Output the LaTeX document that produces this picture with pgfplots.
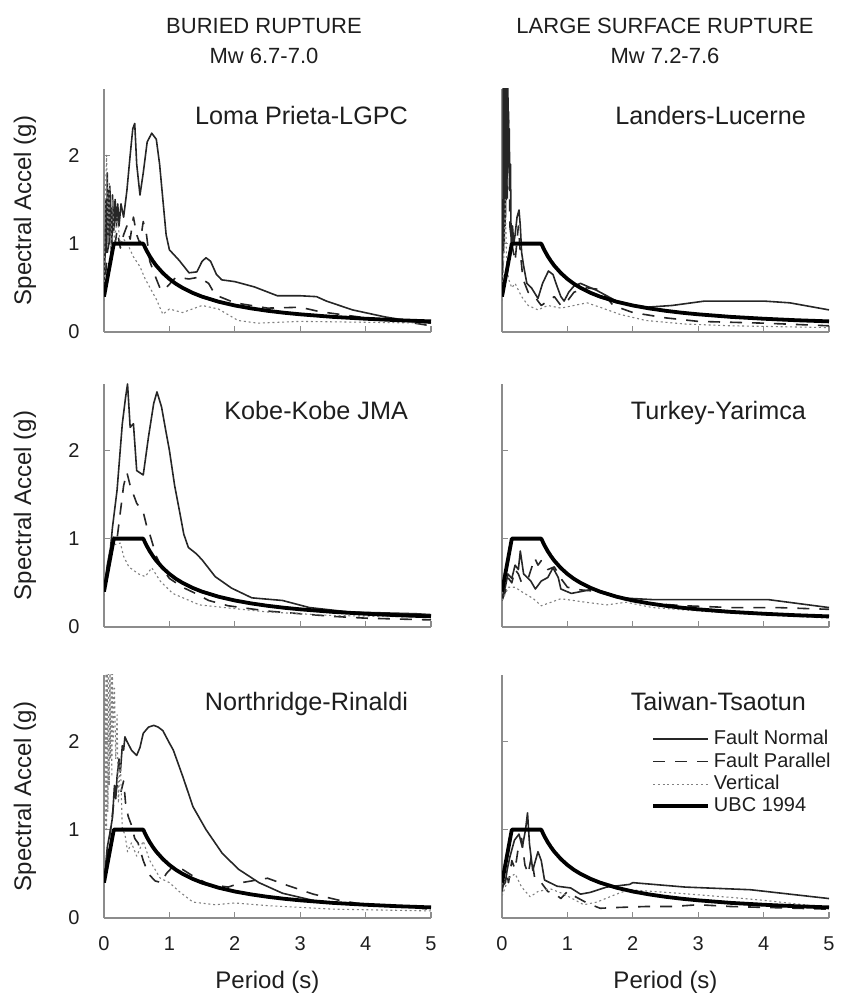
\documentclass[border=0pt]{standalone}
\usepackage{fontspec}
\setmainfont{Liberation Sans}
\usepackage{pgfplots}
\pgfplotsset{compat=1.18}
\definecolor{txt}{RGB}{30,30,30}
\definecolor{axl}{RGB}{140,140,140}
\pgfplotsset{
  panel/.style={
    scale only axis, width=163.5pt, height=121.5pt,
    xmin=0, xmax=5, ymin=0, ymax=2.75,
    axis x line=bottom, axis y line=left,
    axis line style={-, axl, line width=0.6pt},
    xtick={0,1,2,3,4,5}, ytick={0,1,2},
    tick align=inside, major tick length=3pt,
    tick style={axl, line width=0.6pt},
    /pgf/number format/assume math mode=true,
    tick label style={font=\fontsize{10}{12}\selectfont, text=txt},
    yticklabel style={xshift=-8.7pt},
    xticklabel style={yshift=-5.6pt},
    label style={font=\fontsize{12}{14}\selectfont, text=txt},
    xlabel style={at={(axis description cs:0.5,-0.263)}, anchor=center},
    ylabel style={at={(axis description cs:-0.2416,0.5)}, anchor=center},
    line join=round,
  },
  notx/.style={xticklabels={}},
  noty/.style={yticklabels={}},
  fn/.style={line width=0.8pt, black!85},
  fp/.style={line width=0.8pt, black!85, dash pattern=on 6pt off 5pt},
  vt/.style={line width=0.55pt, black!50, dash pattern=on 1pt off 1.4pt},
  ubc/.style={line width=1.9pt, black},
}
\newcommand{\ptitle}[1]{\node[anchor=base east, font=\fontsize{12.6}{14}\selectfont, text=txt] at (rel axis cs:0.951,0.852) {#1};}
\newcommand{\legtxt}[1]{\makebox[62pt][l]{#1}}
\newcommand{\ubcplot}{\addplot[ubc] coordinates {(0,0.4)(0.15,1.0)(0.6,1.0)(0.65,0.923)(0.7,0.857)(0.75,0.8)(0.8,0.75)(0.9,0.667)(1.0,0.6)(1.1,0.545)(1.2,0.5)(1.35,0.444)(1.5,0.4)(1.75,0.343)(2.0,0.3)(2.25,0.267)(2.5,0.24)(2.75,0.218)(3.0,0.2)(3.5,0.171)(4.0,0.15)(4.5,0.133)(5.0,0.12)};}
\begin{document}
\begin{tikzpicture}
\useasboundingbox (0,0) rectangle (421pt,497pt);
\node[font=\fontsize{11}{13}\selectfont, text=txt] at (132pt,484pt) {BURIED RUPTURE};
\node[font=\fontsize{11}{13}\selectfont, text=txt] at (132pt,469pt) {Mw 6.7-7.0};
\node[font=\fontsize{11}{13}\selectfont, text=txt] at (332.5pt,484pt) {LARGE SURFACE RUPTURE};
\node[font=\fontsize{11}{13}\selectfont, text=txt] at (332.5pt,469pt) {Mw 7.2-7.6};

% ---------- Loma Prieta ----------
\begin{axis}[panel, notx, at={(52pt,331pt)}, anchor=south west, ylabel={Spectral Accel (g)}]
\addplot[fn] coordinates {(0,0.42)(0.02,1.0)(0.03,1.5)(0.04,0.9)(0.05,1.8)(0.06,1.1)(0.07,1.6)(0.08,1.0)(0.09,1.65)(0.1,1.1)(0.11,1.4)(0.12,1.0)(0.13,1.55)(0.15,1.15)(0.17,1.5)(0.19,1.2)(0.21,1.45)(0.23,1.2)(0.26,1.45)(0.3,1.3)(0.35,1.6)(0.4,2.0)(0.44,2.3)(0.47,2.36)(0.5,1.9)(0.55,1.55)(0.6,1.8)(0.66,2.15)(0.73,2.25)(0.8,2.18)(0.85,1.9)(0.9,1.5)(0.95,1.1)(1.0,0.93)(1.15,0.81)(1.3,0.67)(1.42,0.68)(1.5,0.8)(1.56,0.84)(1.63,0.8)(1.72,0.65)(1.8,0.59)(2.0,0.57)(2.3,0.51)(2.65,0.41)(3.0,0.41)(3.25,0.4)(3.4,0.35)(3.8,0.25)(4.3,0.17)(4.8,0.11)(5.0,0.1)};
\addplot[fp] coordinates {(0,0.4)(0.05,0.9)(0.1,1.1)(0.15,0.9)(0.2,1.15)(0.25,0.95)(0.3,1.1)(0.35,1.2)(0.4,1.05)(0.45,1.3)(0.5,1.1)(0.55,1.0)(0.6,1.25)(0.65,1.1)(0.7,0.8)(0.8,0.6)(0.87,0.47)(0.95,0.5)(1.1,0.62)(1.3,0.6)(1.45,0.62)(1.6,0.55)(1.7,0.42)(2.0,0.33)(2.5,0.27)(3.0,0.28)(3.3,0.23)(3.6,0.2)(4.0,0.16)(4.5,0.13)(5.0,0.07)};
\addplot[vt] coordinates {(0,0.35)(0.02,1.5)(0.04,2.0)(0.06,1.0)(0.08,1.7)(0.1,0.9)(0.13,1.5)(0.16,1.0)(0.2,1.3)(0.25,1.0)(0.3,1.05)(0.37,0.98)(0.45,0.85)(0.55,0.74)(0.63,0.6)(0.8,0.37)(0.9,0.2)(1.0,0.26)(1.2,0.22)(1.5,0.3)(1.75,0.26)(2.05,0.13)(2.35,0.1)(3.0,0.12)(4.0,0.11)(5.0,0.1)};
\ubcplot
\ptitle{Loma Prieta-LGPC}
\end{axis}

% ---------- Landers ----------
\begin{axis}[panel, notx, noty, at={(251pt,331pt)}, anchor=south west]
\addplot[fn] coordinates {(0,0.45)(0.015,1.2)(0.02,2.9)(0.025,0.9)(0.03,2.9)(0.035,1.0)(0.04,2.9)(0.045,1.2)(0.05,2.9)(0.055,1.3)(0.06,2.9)(0.065,1.5)(0.07,2.9)(0.075,1.6)(0.08,2.9)(0.085,1.8)(0.09,2.8)(0.095,1.9)(0.1,2.4)(0.105,2.0)(0.11,2.3)(0.12,1.6)(0.13,1.9)(0.14,0.9)(0.16,1.2)(0.18,1.0)(0.2,1.1)(0.23,1.3)(0.26,1.38)(0.28,1.2)(0.3,0.9)(0.33,0.75)(0.38,0.55)(0.45,0.5)(0.55,0.38)(0.62,0.55)(0.71,0.69)(0.78,0.65)(0.84,0.52)(0.9,0.4)(0.95,0.35)(1.02,0.45)(1.1,0.52)(1.2,0.55)(1.45,0.47)(1.8,0.33)(2.2,0.28)(2.6,0.3)(3.1,0.35)(4.0,0.35)(4.4,0.33)(5.0,0.25)};
\addplot[fp] coordinates {(0,0.42)(0.04,1.6)(0.06,2.2)(0.08,1.5)(0.1,2.5)(0.12,1.2)(0.15,1.0)(0.2,0.8)(0.25,1.2)(0.28,0.9)(0.32,0.6)(0.4,0.45)(0.5,0.4)(0.6,0.3)(0.7,0.35)(0.8,0.4)(0.9,0.3)(1.0,0.35)(1.1,0.45)(1.3,0.5)(1.5,0.48)(1.7,0.3)(2.0,0.22)(2.5,0.16)(3.0,0.12)(4.0,0.1)(5.0,0.07)};
\addplot[vt] coordinates {(0,0.35)(0.03,0.9)(0.05,1.5)(0.07,0.8)(0.1,0.6)(0.15,0.5)(0.2,0.55)(0.3,0.4)(0.4,0.3)(0.55,0.25)(0.7,0.3)(0.9,0.27)(1.1,0.3)(1.3,0.33)(1.5,0.28)(1.8,0.2)(2.2,0.13)(2.8,0.09)(3.5,0.07)(5.0,0.05)};
\ubcplot
\ptitle{Landers-Lucerne}
\end{axis}

% ---------- Kobe ----------
\begin{axis}[panel, notx, at={(52pt,183.5pt)}, anchor=south west, ylabel={Spectral Accel (g)}]
\addplot[fn] coordinates {(0,0.42)(0.05,0.7)(0.1,0.9)(0.13,1.13)(0.2,1.55)(0.28,2.3)(0.33,2.6)(0.36,2.75)(0.4,2.26)(0.45,2.3)(0.5,1.77)(0.6,1.72)(0.68,2.15)(0.76,2.53)(0.81,2.66)(0.88,2.49)(0.95,2.2)(1.0,2.0)(1.08,1.6)(1.16,1.29)(1.22,1.05)(1.29,0.9)(1.41,0.83)(1.5,0.76)(1.7,0.57)(1.95,0.44)(2.26,0.33)(2.73,0.3)(3.14,0.22)(3.75,0.17)(4.77,0.15)(5.0,0.14)};
\addplot[fp] coordinates {(0,0.4)(0.1,0.85)(0.15,1.05)(0.2,1.0)(0.25,1.3)(0.3,1.6)(0.35,1.75)(0.4,1.6)(0.45,1.5)(0.5,1.4)(0.55,1.35)(0.6,1.3)(0.65,1.15)(0.7,1.05)(0.8,0.8)(0.9,0.65)(1.0,0.55)(1.2,0.45)(1.4,0.38)(1.6,0.3)(1.9,0.24)(2.5,0.18)(3.0,0.15)(3.5,0.12)(4.0,0.1)(5.0,0.08)};
\addplot[vt] coordinates {(0,0.35)(0.1,0.8)(0.15,0.93)(0.25,0.95)(0.3,0.8)(0.38,0.68)(0.53,0.6)(0.63,0.57)(0.73,0.67)(0.86,0.52)(1.05,0.38)(1.46,0.25)(1.97,0.21)(2.5,0.17)(3.5,0.13)(5.0,0.11)};
\ubcplot
\ptitle{Kobe-Kobe JMA}
\end{axis}

% ---------- Turkey ----------
\begin{axis}[panel, notx, noty, at={(251pt,183.5pt)}, anchor=south west]
\addplot[fn] coordinates {(0,0.33)(0.05,0.45)(0.09,0.6)(0.15,0.55)(0.2,0.7)(0.25,0.65)(0.28,0.86)(0.33,0.6)(0.44,0.52)(0.51,0.43)(0.6,0.52)(0.7,0.56)(0.78,0.67)(0.86,0.56)(0.9,0.43)(1.06,0.38)(1.2,0.4)(1.4,0.43)(1.8,0.33)(2.3,0.31)(3.06,0.31)(4.07,0.31)(5.0,0.22)};
\addplot[fp] coordinates {(0,0.3)(0.05,0.4)(0.1,0.55)(0.15,0.5)(0.2,0.65)(0.25,0.6)(0.3,0.5)(0.4,0.55)(0.5,0.78)(0.55,0.7)(0.6,0.75)(0.7,0.65)(0.8,0.68)(0.9,0.55)(1.0,0.45)(1.2,0.42)(1.5,0.4)(1.8,0.32)(2.2,0.27)(2.8,0.24)(3.5,0.22)(4.2,0.22)(5.0,0.2)};
\addplot[vt] coordinates {(0,0.3)(0.1,0.45)(0.2,0.45)(0.3,0.4)(0.48,0.32)(0.6,0.24)(0.9,0.32)(1.28,0.28)(1.6,0.25)(1.9,0.28)(2.3,0.22)(3.4,0.16)(5.0,0.1)};
\ubcplot
\ptitle{Turkey-Yarimca}
\end{axis}

% ---------- Northridge ----------
\begin{axis}[panel, at={(52pt,38pt)}, anchor=south west, ylabel={Spectral Accel (g)}, xlabel={Period (s)}]
\addplot[fn] coordinates {(0,0.4)(0.05,0.8)(0.1,1.0)(0.13,1.14)(0.16,1.5)(0.18,1.35)(0.2,1.6)(0.23,1.8)(0.25,1.65)(0.28,1.95)(0.3,1.9)(0.32,2.05)(0.35,2.0)(0.42,1.9)(0.5,1.84)(0.55,1.93)(0.6,2.09)(0.68,2.16)(0.76,2.18)(0.83,2.16)(0.9,2.12)(1.0,1.98)(1.06,1.9)(1.21,1.59)(1.36,1.26)(1.56,1.0)(1.81,0.73)(2.06,0.55)(2.37,0.4)(2.73,0.28)(3.25,0.19)(3.76,0.16)(4.78,0.12)(5.0,0.11)};
\addplot[fp] coordinates {(0,0.4)(0.1,1.0)(0.15,1.3)(0.2,1.5)(0.25,1.4)(0.3,1.55)(0.33,1.3)(0.37,1.15)(0.42,1.05)(0.47,0.9)(0.52,0.85)(0.6,0.65)(0.68,0.5)(0.78,0.42)(0.88,0.4)(0.95,0.5)(1.05,0.58)(1.2,0.55)(1.35,0.48)(1.6,0.38)(1.9,0.35)(2.1,0.4)(2.5,0.45)(2.8,0.37)(3.2,0.27)(3.6,0.2)(4.0,0.15)(4.5,0.13)(5.0,0.1)};
\addplot[vt] coordinates {(0,0.35)(0.015,2.5)(0.02,1.0)(0.03,2.9)(0.04,1.0)(0.05,2.9)(0.06,1.2)(0.07,2.9)(0.08,1.5)(0.09,2.9)(0.1,1.8)(0.11,2.9)(0.12,1.6)(0.13,2.9)(0.14,2.0)(0.16,2.6)(0.18,1.8)(0.2,2.3)(0.22,1.3)(0.25,1.8)(0.28,1.0)(0.32,0.95)(0.36,0.75)(0.42,0.85)(0.5,0.7)(0.6,0.87)(0.7,0.65)(0.86,0.45)(1.0,0.4)(1.15,0.3)(1.36,0.18)(1.7,0.15)(2.0,0.17)(2.5,0.14)(3.5,0.1)(5.0,0.08)};
\ubcplot
\ptitle{Northridge-Rinaldi}
\end{axis}

% ---------- Taiwan ----------
\begin{axis}[panel, noty, at={(251pt,38pt)}, anchor=south west, xlabel={Period (s)},
  legend style={at={(rel axis cs:0.455,0.79)}, anchor=north west, draw=none, fill=none,
    font=\fontsize{10}{12}\selectfont, text=txt, row sep=-1.5pt, inner sep=0pt},
  legend image code/.code={\draw[#1] (0pt,0pt) -- (27.5pt,0pt);}]
\addplot[fn] coordinates {(0,0.35)(0.05,0.4)(0.08,0.55)(0.12,0.69)(0.19,0.88)(0.26,0.95)(0.31,0.8)(0.36,1.0)(0.39,1.19)(0.42,0.84)(0.47,0.54)(0.55,0.75)(0.6,0.65)(0.65,0.43)(0.84,0.36)(1.05,0.34)(1.2,0.27)(1.35,0.29)(1.6,0.35)(1.95,0.38)(2.0,0.4)(2.8,0.35)(3.8,0.32)(5.0,0.22)};
\addlegendentry{\legtxt{Fault Normal}}
\addplot[fp] coordinates {(0,0.3)(0.05,0.5)(0.1,0.4)(0.15,0.65)(0.2,0.55)(0.25,0.8)(0.3,0.9)(0.35,0.6)(0.4,0.5)(0.45,0.7)(0.5,0.45)(0.6,0.4)(0.7,0.3)(0.8,0.28)(0.9,0.22)(1.0,0.3)(1.1,0.25)(1.3,0.17)(1.5,0.11)(1.8,0.12)(2.2,0.13)(2.6,0.13)(3.0,0.15)(3.5,0.13)(4.0,0.12)(4.5,0.11)(5.0,0.1)};
\addlegendentry{\legtxt{Fault Parallel}}
\addplot[vt] coordinates {(0,0.25)(0.1,0.45)(0.2,0.5)(0.3,0.35)(0.43,0.24)(0.55,0.3)(0.74,0.33)(0.95,0.27)(1.25,0.15)(1.45,0.18)(1.75,0.27)(1.94,0.32)(2.7,0.28)(3.55,0.23)(4.0,0.2)(5.0,0.12)};
\addlegendentry{\legtxt{Vertical}}
\ubcplot
\addlegendentry{\legtxt{UBC 1994}}
\ptitle{Taiwan-Tsaotun}
\end{axis}
\end{tikzpicture}
\end{document}
